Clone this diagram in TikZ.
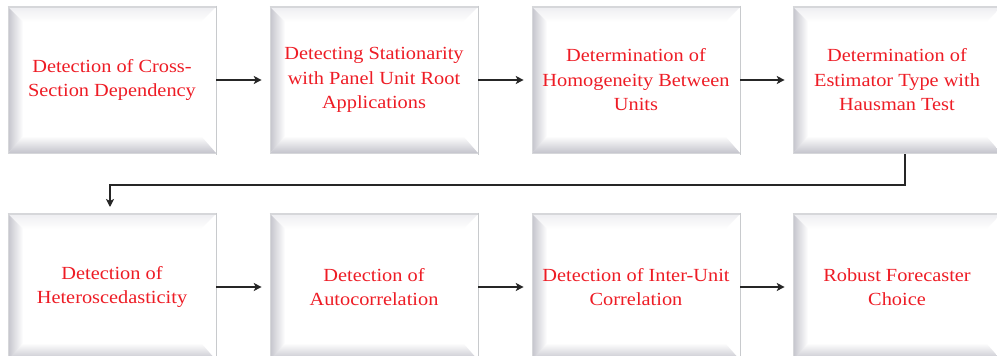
\documentclass[tikz,border=0pt]{standalone}
\usepackage{fontspec}
\setmainfont{Liberation Serif}[FakeStretch=1.1]
\usetikzlibrary{arrows.meta,calc}
\definecolor{txtred}{HTML}{EE1C25}
\definecolor{bevdark}{HTML}{C4C4CC}
\definecolor{bevlight}{HTML}{EEEEF1}
\definecolor{edgegray}{HTML}{D6D7DA}
\definecolor{rightgray}{HTML}{C8CACD}
\definecolor{arrgray}{HTML}{262626}
\tikzset{
  bevelbox/.style={rectangle, minimum width=208pt, minimum height=146pt, inner sep=0pt,
    fill=white, draw=edgegray, line width=0.6pt, text=txtred, align=center,
    font=\fontsize{18.5}{24.5}\selectfont,
    path picture={
      \coordinate (sw) at (path picture bounding box.south west);
      \coordinate (ne) at (path picture bounding box.north east);
      \coordinate (nw) at (sw|-ne);
      \coordinate (se) at (ne|-sw);
      \shade[top color=bevlight, bottom color=white] (nw) -- (ne) -- ($(ne)+(-15pt,-15pt)$) -- ($(nw)+(15pt,-15pt)$) -- cycle;
      \shade[left color=bevdark, right color=white] (sw) -- (nw) -- ($(nw)+(15pt,-15pt)$) -- ($(sw)+(15pt,15pt)$) -- cycle;
      \shade[top color=white, bottom color=bevdark] (sw) -- (se) -- ($(se)+(-15pt,17pt)$) -- ($(sw)+(15pt,17pt)$) -- cycle;
    }},
  topline/.style={draw=edgegray, line width=2pt},
  rightline/.style={draw=rightgray, line width=1.6pt},
  flow/.style={draw=arrgray, line width=1.3pt, -{Stealth[length=8pt,width=8pt,inset=2pt]}},
}
\begin{document}
\begin{tikzpicture}[x=1pt,y=1pt]
\useasboundingbox (0,0) rectangle (997,356);
\clip (0,0) rectangle (997,356);
\node[bevelbox] (b1) at (112,276) {Detection of Cross-\\Section Dependency};
\node[bevelbox] (b2) at (374,276) {Detecting Stationarity\\with Panel Unit Root\\Applications};
\node[bevelbox] (b3) at (636,276) {Determination of\\Homogeneity Between\\Units};
\node[bevelbox] (b4) at (897,276) {Determination of\\Estimator Type with\\Hausman Test};
\node[bevelbox] (b5) at (112,69) {Detection of\\Heteroscedasticity};
\node[bevelbox] (b6) at (374,69) {Detection of\\Autocorrelation};
\node[bevelbox] (b7) at (636,69) {Detection of Inter-Unit\\Correlation};
\node[bevelbox] (b8) at (897,69) {Robust Forecaster\\Choice};
\foreach \b in {b1,b2,b3,b4,b5,b6,b7,b8}{
  \draw[topline] (\b.north west) -- (\b.north east);
  \draw[rightline] ([yshift=1pt]\b.north east) -- ([yshift=-2pt]\b.south east);
}
\draw[flow, shorten >=8pt] (b1.east) -- (b2.west);
\draw[flow, shorten >=8pt] (b2.east) -- (b3.west);
\draw[flow, shorten >=8pt] (b3.east) -- (b4.west);
\draw[flow, shorten >=8pt] (b5.east) -- (b6.west);
\draw[flow, shorten >=8pt] (b6.east) -- (b7.west);
\draw[flow, shorten >=8pt] (b7.east) -- (b8.west);
\coordinate (turn) at (905,171);
\coordinate (drop) at (110,149);
\draw[flow] ([yshift=-1pt]b4.south -| turn) -- (turn) -| (drop);
\end{tikzpicture}
\end{document}
